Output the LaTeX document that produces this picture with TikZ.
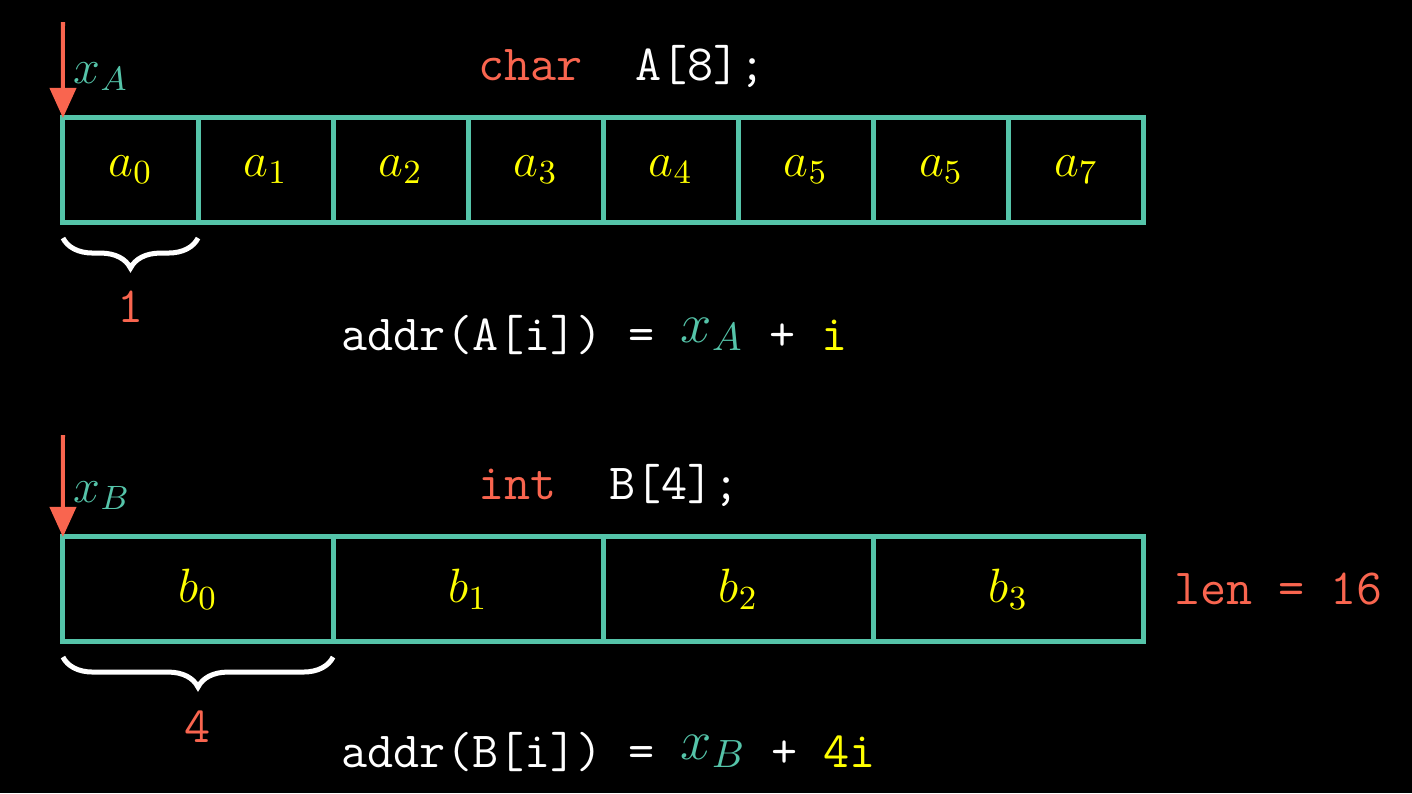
\documentclass[tikz,border=0pt]{standalone}
\usepackage{fix-cm}
\usepackage{amsmath,amssymb,fontspec}
\usepackage{tikz}
\usetikzlibrary{positioning,arrows.meta,decorations.pathreplacing}

\definecolor{tealc}{HTML}{55C4A9}
\definecolor{yellowc}{HTML}{FFFF00}
\definecolor{redc}{HTML}{F9654F}
\newcommand{\bigsz}{\fontsize{13.7}{16}\selectfont}
\newcommand{\codesz}{\fontsize{14.4}{16}\selectfont}
\newcommand{\addrx}[1]{\raisebox{0.08cm}{\fontsize{16}{18}\selectfont\textcolor{tealc}{$x_#1$}}}

\tikzset{
  cell/.style={draw=tealc, line width=0.05cm, minimum height=1.04cm, inner sep=0pt, outer sep=0pt, text=yellowc},
  acell/.style={cell, minimum width=1.35cm},
  bcell/.style={cell, minimum width=2.7cm},
  ptr/.style={redc, line width=0.04cm, -{Triangle[width=0.26cm,length=0.3cm]}},
  sizebrace/.style={white, line width=0.05cm, decorate, decoration={brace, amplitude=0.3cm}},
  code/.style={font=\codesz\ttfamily, text=white, inner sep=0pt},
}

\begin{document}
\begin{tikzpicture}[x=0.01cm, y=-0.01cm, font=\bigsz, node distance=1.35cm, on grid]
  \fill[black] (0,0) rectangle (1412,793);
  % char array
  \node[code, anchor=base west] (decla) at (478,80) {\textcolor{redc}{char}~~A[8];};
  \node[acell] (a0) at (130.5,170) {$a_0$};
  \node[acell] (a1) [right=of a0] {$a_1$};
  \node[acell] (a2) [right=of a1] {$a_2$};
  \node[acell] (a3) [right=of a2] {$a_3$};
  \node[acell] (a4) [right=of a3] {$a_4$};
  \node[acell] (a5) [right=of a4] {$a_5$};
  \node[acell] (a6) [right=of a5] {$a_5$};
  \node[acell] (a7) [right=of a6] {$a_7$};
  \coordinate (xa) at (63,22);
  \node[anchor=base west, inner sep=0pt, text=tealc] (xalab) at (73,83) {$x_A$};
  \draw[ptr] (xa) -- (a0.north west);
  \draw[sizebrace] ([yshift=-0.16cm]a0.south east) -- ([yshift=-0.16cm]a0.south west)
    node[code, midway, yshift=-0.69cm, text=redc] (wa) {1};
  \node[code, anchor=base west] (addra) at (341,350)
    {addr(A[i])~=~\addrx{A}~+~\textcolor{yellowc}{i}};
  % int array
  \node[code, anchor=base west] (declb) at (478,499) {\textcolor{redc}{int}~~B[4];};
  \node[bcell] (b0) at (198,589) {$b_0$};
  \node[bcell] (b1) [right=2.7cm of b0] {$b_1$};
  \node[bcell] (b2) [right=2.7cm of b1] {$b_2$};
  \node[bcell] (b3) [right=2.7cm of b2] {$b_3$};
  \coordinate (xb) at (63,435);
  \node[anchor=base west, inner sep=0pt, text=tealc] (xblab) at (73,502) {$x_B$};
  \draw[ptr] (xb) -- (b0.north west);
  \draw[sizebrace] ([yshift=-0.16cm]b0.south east) -- ([yshift=-0.16cm]b0.south west)
    node[code, midway, yshift=-0.7cm, text=redc] (wb) {4};
  \node[code, anchor=west, text=redc] (len) at ([xshift=0.3cm]b3.east) {len~=~16};
  \node[code, anchor=base west] (addrb) at (341,767)
    {addr(B[i])~=~\addrx{B}~+~\textcolor{yellowc}{4i}};
\end{tikzpicture}
\end{document}
